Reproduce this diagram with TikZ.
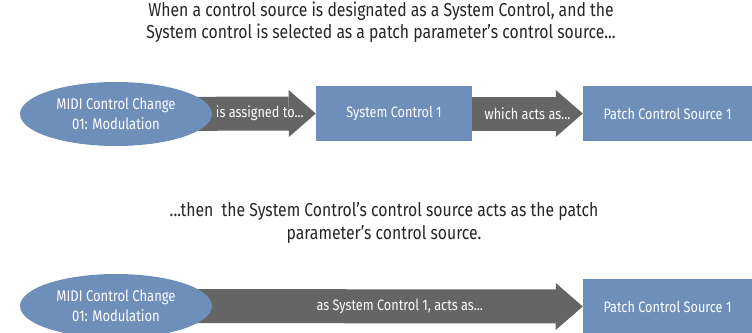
\documentclass[tikz,border=0pt]{standalone}
\usepackage{fontspec}
\setmainfont{Fira Sans}[FakeStretch=0.84]
\usetikzlibrary{shapes.geometric, arrows.meta, positioning, calc}
\definecolor{bluastro}{HTML}{6F8FBB}
\definecolor{grigioscuro}{HTML}{656565}
\definecolor{inchiostro}{HTML}{262626}

\begin{document}
\begin{tikzpicture}[
  x=0.03cm, y=-0.03cm,
  ovale/.style={ellipse, fill=bluastro, text=white, inner sep=0pt,
                minimum width=5.76cm, minimum height=1.92cm, align=center,
                font=\fontsize{13.2}{17.5}\selectfont},
  blocco/.style={fill=bluastro, text=white, inner sep=0pt,
                 minimum height=1.65cm, font=\fontsize{12.9}{15}\selectfont},
  freccia/.style={draw=grigioscuro, line width=1.02cm,
                  -{Triangle[length=0.81cm, width=1.41cm, line width=0pt]}},
  etichetta/.style={text=white, inner sep=0pt, font=\fontsize{12.9}{15}\selectfont},
  didascalia/.style={text=inchiostro, align=center, inner sep=0pt,
                     font=\fontsize{16}{19}\selectfont}
]
\useasboundingbox (0,0) rectangle (752,332);
\clip (0,0) rectangle (752,332);

% ---- prima riga: sorgente assegnata al System Control ----------------
\node[didascalia] (titolo) at (381,22)
     {When a control source is designated as a System Control, and the\\
      System control is selected as a patch parameter’s control source...};

\node[blocco, minimum width=4.68cm] (sc) at (394,113.5) {System Control 1};
\node[blocco, minimum width=5.07cm] (pcs) at (667.5,113.5) {Patch Control Source 1};
\coordinate (partenza) at (116,114);

\draw[freccia] (partenza) -- (sc.west)
     node[etichetta, pos=0.72] (assegna) {is assigned to...};
\draw[freccia] (sc.east) -- (pcs.west)
     node[etichetta, midway] (agisce) {which acts as...};
\node[ovale] (midi) at (partenza) {MIDI Control Change\\01: Modulation};

% ---- seconda riga: collegamento diretto --------------------------------
\node[didascalia] (poi) at (384,223)
     {...then\ \ the System Control’s control source acts as the patch\\
      parameter’s control source.};

\node[blocco, minimum width=5.07cm] (pcsb) at (667.5,306.5) {Patch Control Source 1};
\coordinate (partenzab) at (116,306);

\draw[freccia] (partenzab) -- (pcsb.west)
     node[etichetta, pos=0.608] (diretto) {as System Control 1, acts as...};
\node[ovale] (midib) at (partenzab) {MIDI Control Change\\01: Modulation};

\end{tikzpicture}
\end{document}
